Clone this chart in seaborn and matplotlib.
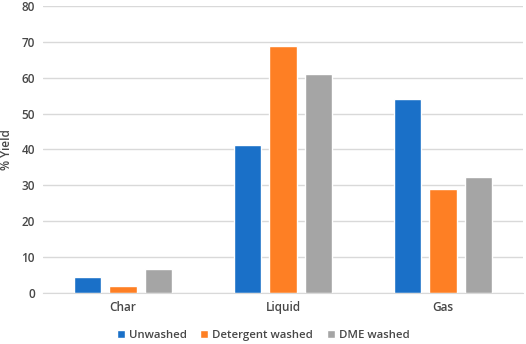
import numpy as np
import pandas as pd
import seaborn as sns
import matplotlib.pyplot as plt

# values
categories = ['Char', 'Liquid', 'Gas']
series = ['Unwashed', 'Detergent washed', 'DME washed']
unwashed = [4.5, 41.3, 54.0]
detergent = [2.1, 68.8, 28.9]
dme = [6.6, 61.0, 32.3]
colors = ['#1a70c8', '#fe7f24', '#a5a5a5']

df = pd.DataFrame({
    'category': categories * 3,
    'series': np.repeat(series, 3),
    'yield': unwashed + detergent + dme,
})

sns.set_style('white')
plt.rcParams['font.family'] = ['Open Sans', 'DejaVu Sans']
txt = '#474747'

fig = plt.figure(figsize=(5.26, 3.44), dpi=100)
ax = fig.add_axes([0.082, 0.148, 0.912, 0.835])
sns.barplot(data=df, x='category', y='yield', hue='series', order=categories,
            hue_order=series, palette=colors, width=0.666, gap=0.22,
            saturation=1, ax=ax, legend=True)

ax.set_ylim(0, 80)
ax.set_yticks(range(0, 81, 10))
ax.yaxis.grid(True, color='#d9d9d9', linewidth=1)
ax.set_axisbelow(True)
for s in ['top', 'right', 'left']:
    ax.spines[s].set_visible(False)
ax.spines['bottom'].set_color('#d9d9d9')
ax.tick_params(axis='both', length=0, labelsize=8.5, labelcolor=txt, pad=6)
for lab in ax.get_xticklabels() + ax.get_yticklabels():
    lab.set_fontweight('semibold')
ax.set_xlabel('')
ax.set_ylabel('% Yield', fontsize=8.5, color=txt, labelpad=6, fontweight='semibold')

ax.legend_.remove()
handles, labels = ax.get_legend_handles_labels()
leg = fig.legend(handles, labels, loc='center', bbox_to_anchor=(0.5, 0.025), ncol=3,
                 frameon=False, fontsize=8.2, labelcolor=txt, handlelength=0.7,
                 handleheight=0.7, handletextpad=0.35, columnspacing=1.2)
for t in leg.get_texts():
    t.set_fontweight('semibold')

fig.savefig('out.png', dpi=100)
